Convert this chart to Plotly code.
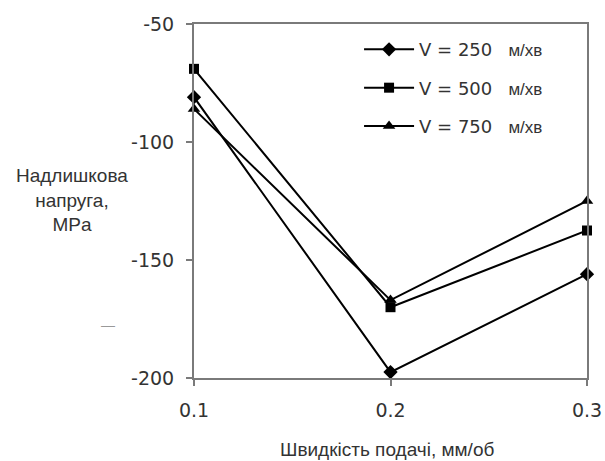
import plotly.graph_objects as go

# Feed rate, mm/rev
feed = [0.1, 0.2, 0.3]
feed_labels = ["0.1", "0.2", "0.3"]

# Residual stress axis ticks, MPa
stress_ticks = [-200, -150, -100, -50]
stress_labels = ["-200", "-150", "-100", "-50"]

# Residual stress, MPa, for each cutting speed
stress_v250 = [-81, -197.5, -156]
stress_v500 = [-69, -170, -137.5]
stress_v750 = [-86, -167, -125]

series = [
    ("250", stress_v250, "diamond", 11),
    ("500", stress_v500, "square", 10),
    ("750", stress_v750, "triangle-up", 11),
]

fig = go.Figure()
for i, (speed, vals, sym, size) in enumerate(series):
    fig.add_trace(go.Scatter(
        x=feed, y=vals, mode="lines+markers",
        name=f"V = {speed}  <span style='font-family:Liberation Sans;font-size:17px'> м/хв</span>",
        legendgroup=f"g{i}",
        line=dict(color="#000000", width=2),
        marker=dict(symbol=sym, size=size, color="#000000"),
        cliponaxis=False,
    ))

axis_common = dict(
    showline=True, linecolor="#7a7a7a", linewidth=2, mirror=True,
    showgrid=False, zeroline=False,
    ticks="outside", ticklen=6, tickwidth=1.5, tickcolor="#7a7a7a",
    tickfont=dict(family="DejaVu Sans", size=19, color="#333333"),
)

fig.update_xaxes(range=[0.1, 0.3], tickvals=feed, ticktext=feed_labels,
                 ticklabelstandoff=8, **axis_common)
fig.update_yaxes(range=[-200, -50], tickvals=stress_ticks, ticktext=stress_labels,
                 ticklabelstandoff=8, **axis_common)

fig.add_annotation(
    text="Надлишкова<br>напруга,<br>MPa", xref="paper", yref="paper",
    x=-0.31, y=0.503, xanchor="center", yanchor="middle", showarrow=False,
    font=dict(family="Liberation Sans", size=19, color="#333333"),
)
fig.add_annotation(
    text="Швидкість подачі, мм/об", xref="paper", yref="paper",
    x=0.49, y=-0.203, xanchor="center", yanchor="middle", showarrow=False,
    font=dict(family="Liberation Sans", size=19, color="#333333"),
)
fig.add_annotation(
    text="—", xref="paper", yref="paper",
    x=-0.22, y=0.15, xanchor="center", yanchor="middle", showarrow=False,
    font=dict(family="Liberation Sans", size=14, color="#999999"),
)

fig.update_layout(
    width=605, height=461,
    margin=dict(l=194, r=18, t=24, b=83, autoexpand=False),
    paper_bgcolor="white", plot_bgcolor="white",
    showlegend=True,
    legend=dict(
        x=0.42, y=0.98, xanchor="left", yanchor="top",
        bgcolor="rgba(0,0,0,0)", borderwidth=0,
        font=dict(family="DejaVu Sans", size=18, color="#333333"),
        traceorder="grouped", tracegroupgap=12, itemwidth=50,
    ),
)

fig.write_html("out.html")
